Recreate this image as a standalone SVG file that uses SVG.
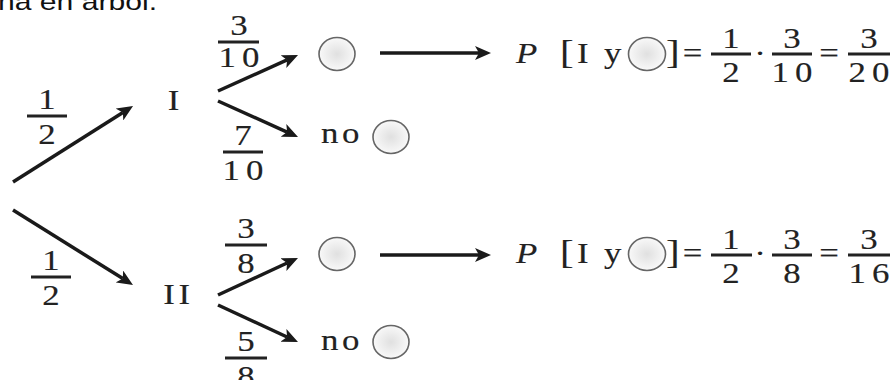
<svg xmlns="http://www.w3.org/2000/svg" width="895" height="380" viewBox="0 0 895 380">
<style>
.t{font-family:"Liberation Serif","Times New Roman",serif;font-size:29px;fill:#222;stroke:#222;stroke-width:0.15}
.m{text-anchor:middle}
.w{letter-spacing:5px}
.it{font-style:italic}
.br{font-size:34px}
.bar{stroke:#222;stroke-width:3}
.ln{stroke:#1a1a1a;stroke-width:3.5;fill:none;marker-end:url(#ah)}
.c{fill:url(#g);stroke:#666;stroke-width:1.6}
.hd{font-family:"Liberation Sans","Open Sans",sans-serif;font-size:24px;fill:#111}
</style>
<defs>
<radialGradient id="g" cx="50%" cy="50%" r="55%">
<stop offset="0" stop-color="#e0e0e0"/>
<stop offset="1" stop-color="#fbfbfb"/>
</radialGradient>
<marker id="ah" markerUnits="userSpaceOnUse" markerWidth="16" markerHeight="14" refX="4" refY="7" orient="auto" viewBox="0 0 16 14">
<path d="M0,0 L16,7 L0,14 L4,7 z" fill="#1a1a1a"/>
</marker>
</defs>
<rect width="895" height="380" fill="#fff"/>
<text class="hd" x="-2" y="10" textLength="159" lengthAdjust="spacingAndGlyphs">na en árbol.</text>

<g id="connectors">
<line class="ln" x1="13" y1="182" x2="122.9" y2="112.4"/>
<line class="ln" x1="13" y1="210" x2="122.8" y2="278.6"/>
<line class="ln" x1="218" y1="91" x2="287.1" y2="59.9"/>
<line class="ln" x1="218" y1="101" x2="287.1" y2="132.1"/>
<line class="ln" x1="218" y1="295" x2="287.1" y2="263"/>
<line class="ln" x1="218" y1="305" x2="287.1" y2="337"/>
<line class="ln" x1="380" y1="53" x2="479" y2="53"/>
<line class="ln" x1="380" y1="255" x2="479" y2="255"/>
</g>

<g id="p-root-I">
<text class="t m" transform="translate(47,109) scale(1.2,1)">1</text>
<line class="bar" x1="27" y1="116" x2="67" y2="116"/>
<text class="t m" transform="translate(47,144) scale(1.2,1)">2</text>
</g>
<g id="p-root-II">
<text class="t m" transform="translate(51,270) scale(1.2,1)">1</text>
<line class="bar" x1="31" y1="277" x2="71" y2="277"/>
<text class="t m" transform="translate(51,305) scale(1.2,1)">2</text>
</g>

<g id="node-I">
<text class="t m" transform="translate(173.5,110) scale(1.2,1)">I</text>
</g>
<g id="node-II">
<text class="t m" style="letter-spacing:3px" transform="translate(178.5,304) scale(1.2,1)">II</text>
</g>

<g id="p-I-yes">
<text class="t m" transform="translate(239,35) scale(1.2,1)">3</text>
<line class="bar" x1="218" y1="42" x2="259" y2="42"/>
<text class="t m w" transform="translate(242,67) scale(1.2,1)">10</text>
</g>
<g id="p-I-no">
<text class="t m" transform="translate(243,145) scale(1.2,1)">7</text>
<line class="bar" x1="223" y1="152" x2="263" y2="152"/>
<text class="t m w" transform="translate(246,180) scale(1.2,1)">10</text>
</g>
<g id="p-II-yes">
<text class="t m" transform="translate(246,238) scale(1.2,1)">3</text>
<line class="bar" x1="225" y1="245" x2="267" y2="245"/>
<text class="t m" transform="translate(246,273) scale(1.2,1)">8</text>
</g>
<g id="p-II-no">
<text class="t m" transform="translate(246,351) scale(1.2,1)">5</text>
<line class="bar" x1="225" y1="358" x2="267" y2="358"/>
<text class="t m" transform="translate(246,386) scale(1.2,1)">8</text>
</g>

<g id="node-I-yes">
<ellipse class="c" cx="337" cy="54" rx="18" ry="16.5"/>
</g>
<g id="node-I-no">
<text class="t" style="letter-spacing:3px" transform="translate(321,143) scale(1.2,1)">no</text>
<ellipse class="c" cx="391" cy="137" rx="18" ry="16.5"/>
</g>
<g id="node-II-yes">
<ellipse class="c" cx="337" cy="254" rx="18" ry="16.5"/>
</g>
<g id="node-II-no">
<text class="t" style="letter-spacing:3px" transform="translate(321,350) scale(1.2,1)">no</text>
<ellipse class="c" cx="391" cy="342" rx="18" ry="16.5"/>
</g>

<g id="eq-1">
<text class="t it" transform="translate(516,63) scale(1.2,1)">P</text>
<text class="t br" transform="translate(560,63) scale(1.2,1)">[</text>
<text class="t" transform="translate(577,63) scale(1.2,1)">I</text>
<text class="t" transform="translate(604,63) scale(1.2,1)">y</text>
<ellipse class="c" cx="647" cy="54" rx="18.5" ry="16.5"/>
<text class="t br" transform="translate(666,63) scale(1.2,1)">]</text>
<text class="t m" transform="translate(692.5,63) scale(1.2,1)">=</text>
<text class="t m" transform="translate(731,48) scale(1.2,1)">1</text>
<line class="bar" x1="711" y1="54" x2="751" y2="54"/>
<text class="t m" transform="translate(731,82) scale(1.2,1)">2</text>
<text class="t m" transform="translate(760,63) scale(1.2,1)">·</text>
<text class="t m" transform="translate(792,48) scale(1.2,1)">3</text>
<line class="bar" x1="772" y1="54" x2="812" y2="54"/>
<text class="t m w" transform="translate(795,82) scale(1.2,1)">10</text>
<text class="t m" transform="translate(829,63) scale(1.2,1)">=</text>
<text class="t m" transform="translate(869,48) scale(1.2,1)">3</text>
<line class="bar" x1="848" y1="54" x2="890" y2="54"/>
<text class="t m w" transform="translate(872,82) scale(1.2,1)">20</text>
</g>

<g id="eq-2">
<text class="t it" transform="translate(516,263) scale(1.2,1)">P</text>
<text class="t br" transform="translate(560,263) scale(1.2,1)">[</text>
<text class="t" transform="translate(577,263) scale(1.2,1)">I</text>
<text class="t" transform="translate(604,263) scale(1.2,1)">y</text>
<ellipse class="c" cx="647" cy="254" rx="18.5" ry="16.5"/>
<text class="t br" transform="translate(666,263) scale(1.2,1)">]</text>
<text class="t m" transform="translate(692.5,263) scale(1.2,1)">=</text>
<text class="t m" transform="translate(731,249) scale(1.2,1)">1</text>
<line class="bar" x1="711" y1="255" x2="752" y2="255"/>
<text class="t m" transform="translate(731,283) scale(1.2,1)">2</text>
<text class="t m" transform="translate(760,263) scale(1.2,1)">·</text>
<text class="t m" transform="translate(792,249) scale(1.2,1)">3</text>
<line class="bar" x1="772" y1="255" x2="812" y2="255"/>
<text class="t m" transform="translate(792,283) scale(1.2,1)">8</text>
<text class="t m" transform="translate(829,263) scale(1.2,1)">=</text>
<text class="t m" transform="translate(869,249) scale(1.2,1)">3</text>
<line class="bar" x1="848" y1="255" x2="890" y2="255"/>
<text class="t m w" transform="translate(872,283) scale(1.2,1)">16</text>
</g>
</svg>
